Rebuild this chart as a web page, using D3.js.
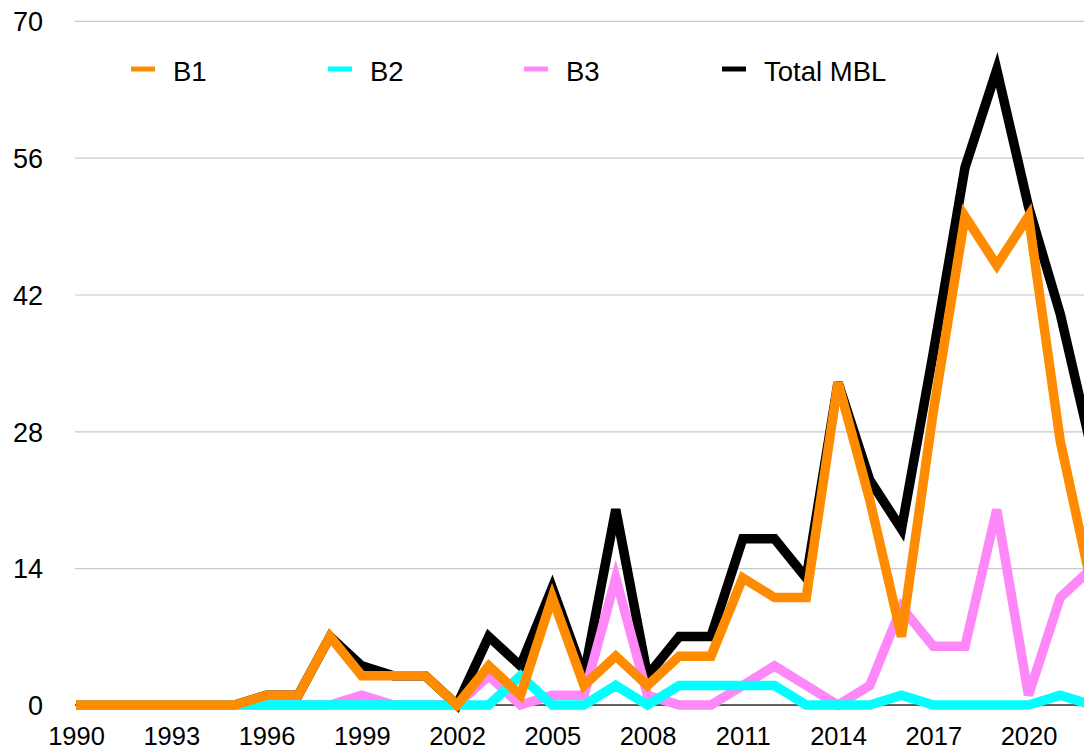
<!DOCTYPE html>
<html>
<head>
<meta charset="utf-8">
<script src="https://cdn.jsdelivr.net/npm/d3@7"></script>
<style>
  html, body { margin: 0; padding: 0; background: #fff; }
  svg { display: block; font-family: Helvetica, Arial, "Liberation Sans", sans-serif; }
</style>
</head>
<body>
<svg id="chart" width="1084" height="751"></svg>
<script>
const years = [1990,1991,1992,1993,1994,1995,1996,1997,1998,1999,2000,2001,2002,2003,2004,2005,2006,2007,2008,2009,2010,2011,2012,2013,2014,2015,2016,2017,2018,2019,2020,2021,2022];
const b1    = [0,0,0,0,0,0,1,1,7,3,3,3,0,4,1,11,2,5,2,5,5,13,11,11,33,21,7,30,50,45,50,27,12];
const b2    = [0,0,0,0,0,0,0,0,0,0,0,0,0,0,3,0,0,2,0,2,2,2,2,0,0,0,1,0,0,0,0,1,0];
const b3    = [0,0,0,0,0,0,0,0,0,1,0,0,0,3,0,1,1,13,1,0,0,2,4,2,0,2,10,6,6,20,1,11,14];
const total = [0,0,0,0,0,0,1,1,7,4,3,3,0,7,4,12,3,20,3,7,7,17,17,13,33,23,18,36,55,65,51,40,26];
const yTicks = [0,14,28,42,56,70];
const xTicks = [1990,1993,1996,1999,2002,2005,2008,2011,2014,2017,2020];
const seriesNames = ["B1","B2","B3","Total MBL"];
const seriesColors = {"B1":"#ff8c00","B2":"#00ffff","B3":"#ff88f8","Total MBL":"#000000"};
const seriesValues = {"B1":b1,"B2":b2,"B3":b3,"Total MBL":total};
const drawOrder = ["Total MBL","B3","B2","B1"];

const svg = d3.select("#chart");
const W = 1084, H = 751;
const x = d3.scaleLinear().domain([1990, 2022]).range([76, 1092]);
const y = d3.scaleLinear().domain([0, 70]).range([705, 20.8]);

// grid + y labels
const yAxis = d3.axisLeft(y).tickValues(yTicks).tickSize(-(W - 75)).tickFormat(d3.format("d"));
const gy = svg.append("g").attr("transform", "translate(75,0)").call(yAxis);
gy.select(".domain").remove();
gy.selectAll(".tick line").attr("stroke", "#c8c8c8").attr("stroke-width", 1.2);
gy.selectAll(".tick text").attr("x", -32).attr("fill", "#000")
  .style("font-size", "27px").attr("dy", "0.36em");

// baseline
svg.append("line").attr("x1", 75).attr("x2", W).attr("y1", y(0)).attr("y2", y(0))
  .attr("stroke", "#333").attr("stroke-width", 1.5);

// x labels
const xAxis = d3.axisBottom(x).tickValues(xTicks).tickSize(0).tickFormat(d3.format("d"));
const gx = svg.append("g").attr("transform", `translate(0,${y(0)})`).call(xAxis);
gx.select(".domain").remove();
gx.selectAll(".tick text").attr("fill", "#000").style("font-size", "25.5px").attr("y", 22).attr("dy", "0.71em");

// lines
const line = d3.line().x((d, i) => x(years[i])).y(d => y(d));
drawOrder.forEach(name => {
  svg.append("path")
    .datum(seriesValues[name])
    .attr("fill", "none")
    .attr("stroke", seriesColors[name])
    .attr("stroke-width", 9.5)
    .attr("stroke-linejoin", "miter")
    .attr("stroke-miterlimit", 4)
    .attr("stroke-linecap", "butt")
    .attr("d", line);
});

// legend
const legendX = [131, 328, 524, 722];
const lg = svg.append("g");
seriesNames.forEach((name, i) => {
  const g = lg.append("g").attr("transform", `translate(${legendX[i]},69)`);
  g.append("line").attr("x1", 0).attr("x2", 24).attr("y1", 0).attr("y2", 0)
    .attr("stroke", seriesColors[name]).attr("stroke-width", 5);
  g.append("text").attr("x", 42).attr("y", 11.5).attr("fill", "#000")
    .style("font-size", "27.5px").text(name);
});
</script>
</body>
</html>
